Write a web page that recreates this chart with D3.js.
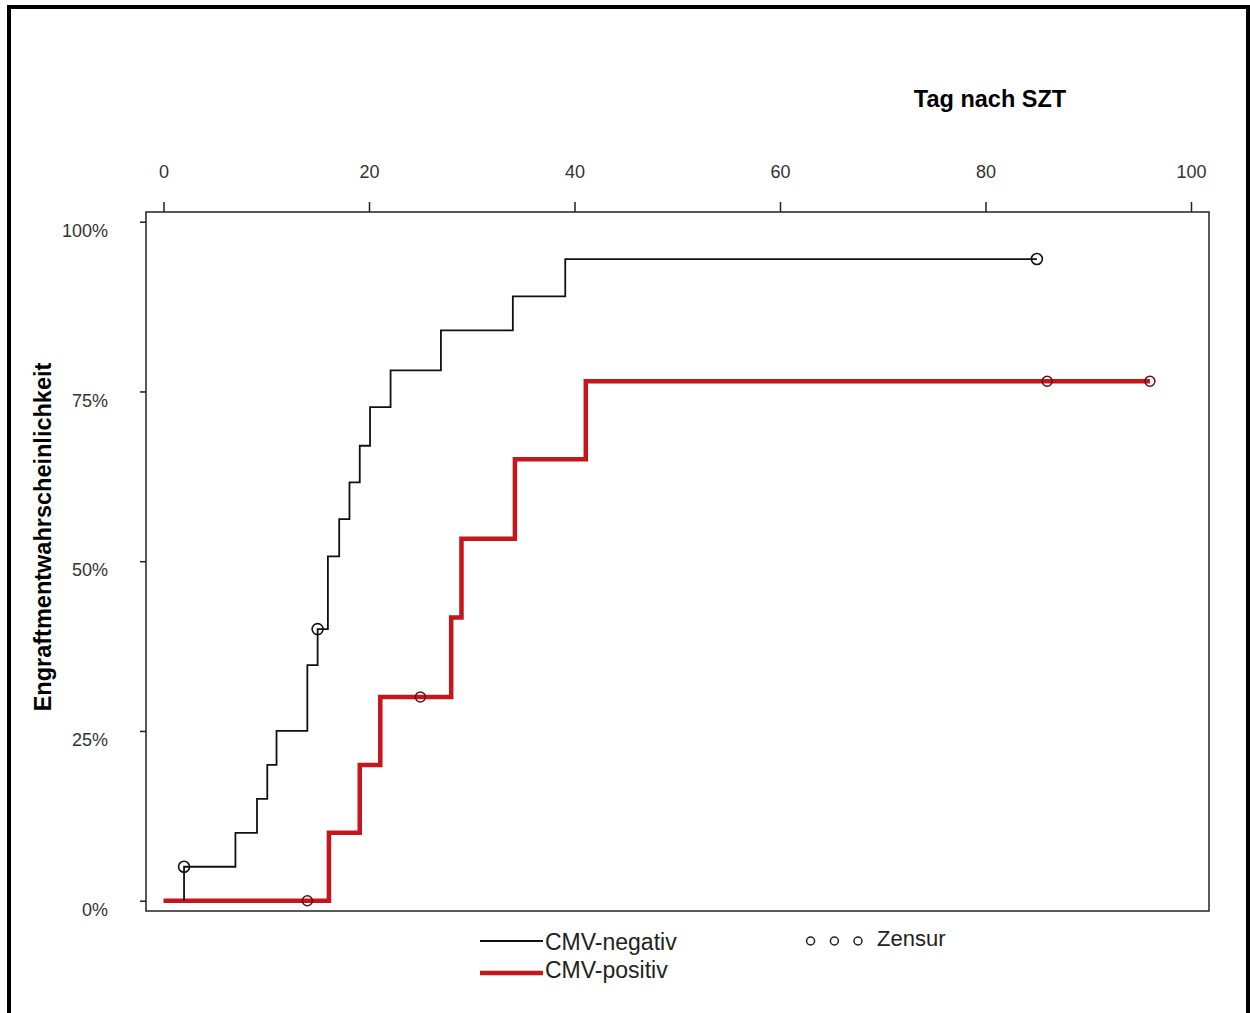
<!DOCTYPE html>
<html>
<head>
<meta charset="utf-8">
<script src="https://cdn.jsdelivr.net/npm/d3@7"></script>
<style>
    body { margin: 0; background: #fff; }
    text { font-family: "Liberation Sans", Arial, sans-serif; }
</style>
</head>
<body>
<div id="chart"></div>
<script>

// CMV-negativ (Tag, Wahrscheinlichkeit %)
const negDays = [2, 2, 7, 9.1, 10.1, 11, 14, 15, 16, 17.1, 18.1, 19.1, 20.1, 22.1, 27, 34, 39.1, 85];
const negValues = [0, 5, 10, 15, 20, 25, 34.7, 40, 50.7, 56.2, 61.6, 67, 72.7, 78.1, 84, 89, 94.5, 94.5];
const negCensDays = [2, 15, 85];
const negCensValues = [5, 40, 94.5];

// CMV-positiv
const posDays = [0, 16.1, 19.1, 21.1, 28, 29, 34.2, 41.1, 96];
const posValues = [0, 10, 20, 30, 41.7, 53.3, 65, 76.5, 76.5];
const posCensDays = [14, 25, 86, 96];
const posCensValues = [0, 30, 76.5, 76.5];

const xTicks = [0, 20, 40, 60, 80, 100];
const yTicks = [0, 25, 50, 75, 100];

const width = 1250, height = 1013;
const box = {left: 146, right: 1209, top: 212, bottom: 911};
const red = "#c4161c";

const svg = d3.select("#chart")
    .append("svg")
    .attr("width", width)
    .attr("height", height);

// outer frame
svg.append("rect")
    .attr("x", 9).attr("y", 7)
    .attr("width", 1239).attr("height", 1100)
    .attr("fill", "none")
    .attr("stroke", "#000")
    .attr("stroke-width", 4);

const x = d3.scaleLinear().domain([0, 100]).range([163.5, 1191]);
const y = d3.scaleLinear().domain([0, 100]).range([900.7, 221.7]);

// plot box
svg.append("rect")
    .attr("x", box.left).attr("y", box.top)
    .attr("width", box.right - box.left)
    .attr("height", box.bottom - box.top)
    .attr("fill", "none")
    .attr("stroke", "#222")
    .attr("stroke-width", 1.5);

const xAxis = svg.append("g")
    .attr("transform", `translate(0,${box.top})`)
    .call(d3.axisTop(x).tickValues(xTicks).tickSize(10).tickPadding(24));
xAxis.select(".domain").remove();

const yAxis = svg.append("g")
    .attr("transform", `translate(${box.left},0)`)
    .call(d3.axisLeft(y).tickValues(yTicks).tickSize(6).tickPadding(32)
        .tickFormat(d => d + "%"));
yAxis.select(".domain").remove();

svg.selectAll(".tick line").attr("stroke", "#222").attr("stroke-width", 1.5);
svg.selectAll(".tick text")
    .attr("fill", "#333")
    .style("font-size", "18px");
yAxis.selectAll(".tick text").attr("dy", "0.82em");

// titles
svg.append("text")
    .attr("x", 990).attr("y", 107)
    .attr("text-anchor", "middle")
    .style("font-size", "23.5px")
    .style("font-weight", "bold")
    .text("Tag nach SZT");

svg.append("text")
    .attr("transform", "translate(51,537) rotate(-90)")
    .attr("text-anchor", "middle")
    .style("font-size", "23.5px")
    .style("font-weight", "bold")
    .text("Engraftmentwahrscheinlichkeit");

// curves
const step = d3.line()
    .x(d => x(d[0]))
    .y(d => y(d[1]))
    .curve(d3.curveStepAfter);

const negData = d3.zip(negDays, negValues);
const posData = d3.zip(posDays, posValues);

svg.append("path")
    .datum(posData)
    .attr("d", step)
    .attr("fill", "none")
    .attr("stroke", red)
    .attr("stroke-width", 4.5);

svg.append("path")
    .datum(negData)
    .attr("d", step)
    .attr("fill", "none")
    .attr("stroke", "#111")
    .attr("stroke-width", 1.8);

svg.selectAll(".cens-neg")
    .data(d3.zip(negCensDays, negCensValues))
    .enter().append("circle")
    .attr("class", "cens-neg")
    .attr("cx", d => x(d[0]))
    .attr("cy", d => y(d[1]))
    .attr("r", 5.5)
    .attr("fill", "none")
    .attr("stroke", "#111")
    .attr("stroke-width", 1.6);

svg.selectAll(".cens-pos")
    .data(d3.zip(posCensDays, posCensValues))
    .enter().append("circle")
    .attr("class", "cens-pos")
    .attr("cx", d => x(d[0]))
    .attr("cy", d => y(d[1]))
    .attr("r", 5)
    .attr("fill", "none")
    .attr("stroke", "#5a1212")
    .attr("stroke-width", 1.5);

// legend
const legend = svg.append("g");

legend.append("line")
    .attr("x1", 480).attr("x2", 543)
    .attr("y1", 941).attr("y2", 941)
    .attr("stroke", "#111").attr("stroke-width", 1.8);
legend.append("text")
    .attr("x", 545).attr("y", 950)
    .attr("fill", "#222")
    .style("font-size", "23px")
    .text("CMV-negativ");

legend.append("line")
    .attr("x1", 480).attr("x2", 543)
    .attr("y1", 973).attr("y2", 973)
    .attr("stroke", red).attr("stroke-width", 4.5);
legend.append("text")
    .attr("x", 545).attr("y", 978)
    .attr("fill", "#222")
    .style("font-size", "23px")
    .text("CMV-positiv");

[810.6, 834.4, 858].forEach(cx => {
    legend.append("circle")
        .attr("cx", cx).attr("cy", 941)
        .attr("r", 4)
        .attr("fill", "none")
        .attr("stroke", "#222")
        .attr("stroke-width", 1.5);
});
legend.append("text")
    .attr("x", 877).attr("y", 946)
    .attr("fill", "#222")
    .style("font-size", "22px")
    .text("Zensur");

</script>
</body>
</html>
